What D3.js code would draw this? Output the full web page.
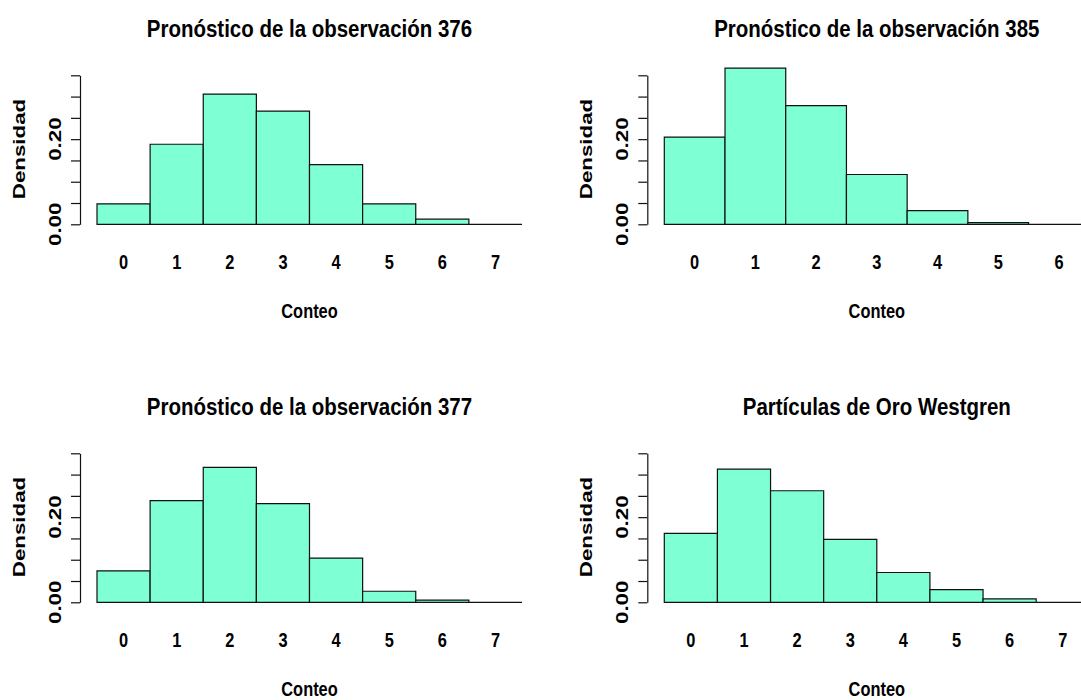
<!DOCTYPE html>
<html>
<head>
<meta charset="utf-8">
<script src="https://cdn.jsdelivr.net/npm/d3@7"></script>
<style>
  html, body { margin: 0; padding: 0; background: #fff; }
  svg { display: block; }
  text { font-family: "Liberation Sans", Arial, Helvetica, sans-serif; font-weight: bold; fill: #000; }
</style>
</head>
<body>
<svg id="chart" width="1081" height="700"></svg>
<script>
// Relative frequency (density) per count, one array per histogram
const titles = [
  "Pronóstico de la observación 376",
  "Pronóstico de la observación 385",
  "Pronóstico de la observación 377",
  "Partículas de Oro Westgren"
];
const counts376 = [0, 1, 2, 3, 4, 5, 6, 7];
const density376 = [0.048, 0.188, 0.306, 0.266, 0.140, 0.048, 0.012, 0.000];
const counts385 = [0, 1, 2, 3, 4, 5, 6];
const density385 = [0.205, 0.367, 0.279, 0.117, 0.032, 0.004, 0.000];
const counts377 = [0, 1, 2, 3, 4, 5, 6, 7];
const density377 = [0.074, 0.239, 0.317, 0.232, 0.104, 0.026, 0.005, 0.000];
const countsWestgren = [0, 1, 2, 3, 4, 5, 6, 7];
const densityWestgren = [0.162, 0.313, 0.262, 0.148, 0.070, 0.030, 0.008, 0.000];

const yTicks = [0, 0.05, 0.10, 0.15, 0.20, 0.25, 0.30, 0.35];
const yTickLabels = { "0": "0.00", "0.2": "0.20" };
const xLabel = "Conteo";
const yLabel = "Densidad";

const panels = [
  { title: titles[0], counts: counts376, dens: density376 },
  { title: titles[1], counts: counts385, dens: density385 },
  { title: titles[2], counts: counts377, dens: density377 },
  { title: titles[3], counts: countsWestgren, dens: densityWestgren }
];

// layout
const colAxisX = [80, 647.3];
const rowBase = [224.3, 602.3];
const plotW = 459;
const axisH = 149;
const fill = "#7FFFD4";

const svg = d3.select("#chart");

function hText(g, x, y, str, size, sx) {
  return g.append("text")
    .attr("transform", `translate(${x},${y}) scale(${sx},1)`)
    .attr("text-anchor", "middle")
    .style("font-size", size + "px")
    .text(str);
}
function vText(g, x, y, str, size, sx) {
  return g.append("text")
    .attr("transform", `translate(${x},${y}) scale(${sx},1) rotate(-90)`)
    .attr("text-anchor", "middle")
    .style("font-size", size + "px")
    .text(str);
}

panels.forEach((p, i) => {
  const ax = colAxisX[i % 2];
  const base = rowBase[Math.floor(i / 2)];
  const n = p.counts.length;
  const pad = 0.04 * n;

  const x = d3.scaleLinear()
    .domain([-0.5 - pad, n - 0.5 + pad])
    .range([ax, ax + plotW]);
  const y = d3.scaleLinear()
    .domain([0, 0.35])
    .range([base, base - axisH]);

  const g = svg.append("g");

  // bars as closed paths so that empty bins still show their outline
  g.selectAll("path.bar")
    .data(p.counts.map((c, k) => ({ c, d: p.dens[k] })))
    .join("path")
    .attr("class", "bar")
    .attr("d", d => {
      const x0 = x(d.c - 0.5), x1 = x(d.c + 0.5);
      const y0 = y(0), y1 = y(d.d);
      return `M${x0},${y0}H${x1}V${y1}H${x0}Z`;
    })
    .attr("fill", fill)
    .attr("stroke", "#111")
    .attr("stroke-width", 1.2);

  // y axis
  const yAxis = d3.axisLeft(y)
    .tickValues(yTicks)
    .tickSize(9)
    .tickSizeOuter(0)
    .tickFormat(() => "");
  const ag = g.append("g").call(yAxis).attr("transform", `translate(${ax},0)`);
  ag.select(".domain").attr("stroke", "#111").attr("stroke-width", 1.2);
  ag.selectAll(".tick line").attr("stroke", "#111").attr("stroke-width", 1.2);

  yTicks.forEach(t => {
    const lab = yTickLabels[String(+t.toFixed(2))];
    if (lab) vText(g, ax - 19, y(t), lab, 22.3, 0.72);
  });

  // x tick labels
  const xAxis = d3.axisBottom(x)
    .tickValues(p.counts)
    .tickSize(0)
    .tickFormat(d3.format("d"));
  const xg = g.append("g").attr("transform", `translate(0,${base})`).call(xAxis);
  xg.select(".domain").remove();
  xg.selectAll(".tick text").remove();
  p.counts.forEach(c => hText(g, x(c), base + 45, String(c), 20, 0.82));

  // titles and axis labels
  const cx = ax + plotW / 2;
  hText(g, cx, base - 187.6, p.title, 23, 0.89);
  hText(g, cx, base + 94, xLabel, 20, 0.82);
  vText(g, ax - 55, base - 75.3, yLabel, 22.3, 0.72);
});
</script>
</body>
</html>
